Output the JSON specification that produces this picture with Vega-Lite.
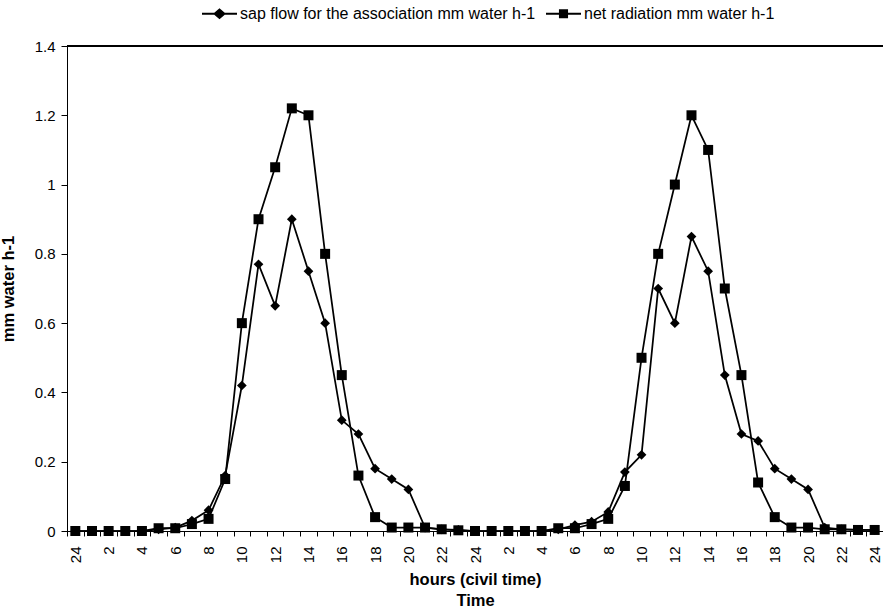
{
  "$schema": "https://vega.github.io/schema/vega-lite/v6.json",
  "width": 816,
  "height": 485,
  "autosize": {"type": "none"},
  "padding": {"left": 67, "top": 46, "right": 0, "bottom": 79},
  "background": "white",
  "config": {
    "view": {"stroke": "black", "strokeWidth": 1},
    "font": "Liberation Sans",
    "axis": {
      "domainColor": "black", "tickColor": "black", "labelColor": "black", "titleColor": "black",
      "grid": false, "labelFont": "Liberation Sans", "titleFont": "Liberation Sans",
      "labelFontSize": 15, "titleFontSize": 16.5, "titleFontWeight": "bold",
      "domainWidth": 1, "tickWidth": 1, "tickSize": 5
    },
    "legend": {
      "orient": "none", "legendX": 135, "legendY": -50, "direction": "horizontal",
      "labelFont": "Liberation Sans", "labelFontSize": 16, "labelColor": "black",
      "symbolSize": 1225, "symbolFillColor": "black", "symbolStrokeColor": "black",
      "symbolStrokeWidth": 0, "symbolOpacity": 1, "labelOffset": 3, "columnPadding": 10, "labelLimit": 0
    }
  },
  "datasets": {
    "d": [
      {"h": 0, "s": "sap flow for the association mm water h-1", "v": 0},
      {"h": 1, "s": "sap flow for the association mm water h-1", "v": 0},
      {"h": 2, "s": "sap flow for the association mm water h-1", "v": 0},
      {"h": 3, "s": "sap flow for the association mm water h-1", "v": 0},
      {"h": 4, "s": "sap flow for the association mm water h-1", "v": 0},
      {"h": 5, "s": "sap flow for the association mm water h-1", "v": 0.005},
      {"h": 6, "s": "sap flow for the association mm water h-1", "v": 0.01},
      {"h": 7, "s": "sap flow for the association mm water h-1", "v": 0.03},
      {"h": 8, "s": "sap flow for the association mm water h-1", "v": 0.06},
      {"h": 9, "s": "sap flow for the association mm water h-1", "v": 0.16},
      {"h": 10, "s": "sap flow for the association mm water h-1", "v": 0.42},
      {"h": 11, "s": "sap flow for the association mm water h-1", "v": 0.77},
      {"h": 12, "s": "sap flow for the association mm water h-1", "v": 0.65},
      {"h": 13, "s": "sap flow for the association mm water h-1", "v": 0.9},
      {"h": 14, "s": "sap flow for the association mm water h-1", "v": 0.75},
      {"h": 15, "s": "sap flow for the association mm water h-1", "v": 0.6},
      {"h": 16, "s": "sap flow for the association mm water h-1", "v": 0.32},
      {"h": 17, "s": "sap flow for the association mm water h-1", "v": 0.28},
      {"h": 18, "s": "sap flow for the association mm water h-1", "v": 0.18},
      {"h": 19, "s": "sap flow for the association mm water h-1", "v": 0.15},
      {"h": 20, "s": "sap flow for the association mm water h-1", "v": 0.12},
      {"h": 21, "s": "sap flow for the association mm water h-1", "v": 0.01},
      {"h": 22, "s": "sap flow for the association mm water h-1", "v": 0.005},
      {"h": 23, "s": "sap flow for the association mm water h-1", "v": 0.003},
      {"h": 24, "s": "sap flow for the association mm water h-1", "v": 0},
      {"h": 25, "s": "sap flow for the association mm water h-1", "v": 0},
      {"h": 26, "s": "sap flow for the association mm water h-1", "v": 0},
      {"h": 27, "s": "sap flow for the association mm water h-1", "v": 0},
      {"h": 28, "s": "sap flow for the association mm water h-1", "v": 0},
      {"h": 29, "s": "sap flow for the association mm water h-1", "v": 0.005},
      {"h": 30, "s": "sap flow for the association mm water h-1", "v": 0.017},
      {"h": 31, "s": "sap flow for the association mm water h-1", "v": 0.027},
      {"h": 32, "s": "sap flow for the association mm water h-1", "v": 0.055},
      {"h": 33, "s": "sap flow for the association mm water h-1", "v": 0.17},
      {"h": 34, "s": "sap flow for the association mm water h-1", "v": 0.22},
      {"h": 35, "s": "sap flow for the association mm water h-1", "v": 0.7},
      {"h": 36, "s": "sap flow for the association mm water h-1", "v": 0.6},
      {"h": 37, "s": "sap flow for the association mm water h-1", "v": 0.85},
      {"h": 38, "s": "sap flow for the association mm water h-1", "v": 0.75},
      {"h": 39, "s": "sap flow for the association mm water h-1", "v": 0.45},
      {"h": 40, "s": "sap flow for the association mm water h-1", "v": 0.28},
      {"h": 41, "s": "sap flow for the association mm water h-1", "v": 0.26},
      {"h": 42, "s": "sap flow for the association mm water h-1", "v": 0.18},
      {"h": 43, "s": "sap flow for the association mm water h-1", "v": 0.15},
      {"h": 44, "s": "sap flow for the association mm water h-1", "v": 0.12},
      {"h": 45, "s": "sap flow for the association mm water h-1", "v": 0.01},
      {"h": 46, "s": "sap flow for the association mm water h-1", "v": 0.005},
      {"h": 47, "s": "sap flow for the association mm water h-1", "v": 0.003},
      {"h": 48, "s": "sap flow for the association mm water h-1", "v": 0.003},
      {"h": 0, "s": "net radiation mm water h-1", "v": 0},
      {"h": 1, "s": "net radiation mm water h-1", "v": 0},
      {"h": 2, "s": "net radiation mm water h-1", "v": 0},
      {"h": 3, "s": "net radiation mm water h-1", "v": 0},
      {"h": 4, "s": "net radiation mm water h-1", "v": 0},
      {"h": 5, "s": "net radiation mm water h-1", "v": 0.008},
      {"h": 6, "s": "net radiation mm water h-1", "v": 0.008},
      {"h": 7, "s": "net radiation mm water h-1", "v": 0.02},
      {"h": 8, "s": "net radiation mm water h-1", "v": 0.035},
      {"h": 9, "s": "net radiation mm water h-1", "v": 0.15},
      {"h": 10, "s": "net radiation mm water h-1", "v": 0.6},
      {"h": 11, "s": "net radiation mm water h-1", "v": 0.9},
      {"h": 12, "s": "net radiation mm water h-1", "v": 1.05},
      {"h": 13, "s": "net radiation mm water h-1", "v": 1.22},
      {"h": 14, "s": "net radiation mm water h-1", "v": 1.2},
      {"h": 15, "s": "net radiation mm water h-1", "v": 0.8},
      {"h": 16, "s": "net radiation mm water h-1", "v": 0.45},
      {"h": 17, "s": "net radiation mm water h-1", "v": 0.16},
      {"h": 18, "s": "net radiation mm water h-1", "v": 0.04},
      {"h": 19, "s": "net radiation mm water h-1", "v": 0.01},
      {"h": 20, "s": "net radiation mm water h-1", "v": 0.01},
      {"h": 21, "s": "net radiation mm water h-1", "v": 0.01},
      {"h": 22, "s": "net radiation mm water h-1", "v": 0.005},
      {"h": 23, "s": "net radiation mm water h-1", "v": 0.002},
      {"h": 24, "s": "net radiation mm water h-1", "v": 0},
      {"h": 25, "s": "net radiation mm water h-1", "v": 0},
      {"h": 26, "s": "net radiation mm water h-1", "v": 0},
      {"h": 27, "s": "net radiation mm water h-1", "v": 0},
      {"h": 28, "s": "net radiation mm water h-1", "v": 0},
      {"h": 29, "s": "net radiation mm water h-1", "v": 0.008},
      {"h": 30, "s": "net radiation mm water h-1", "v": 0.008},
      {"h": 31, "s": "net radiation mm water h-1", "v": 0.02},
      {"h": 32, "s": "net radiation mm water h-1", "v": 0.035},
      {"h": 33, "s": "net radiation mm water h-1", "v": 0.13},
      {"h": 34, "s": "net radiation mm water h-1", "v": 0.5},
      {"h": 35, "s": "net radiation mm water h-1", "v": 0.8},
      {"h": 36, "s": "net radiation mm water h-1", "v": 1.0},
      {"h": 37, "s": "net radiation mm water h-1", "v": 1.2},
      {"h": 38, "s": "net radiation mm water h-1", "v": 1.1},
      {"h": 39, "s": "net radiation mm water h-1", "v": 0.7},
      {"h": 40, "s": "net radiation mm water h-1", "v": 0.45},
      {"h": 41, "s": "net radiation mm water h-1", "v": 0.14},
      {"h": 42, "s": "net radiation mm water h-1", "v": 0.04},
      {"h": 43, "s": "net radiation mm water h-1", "v": 0.01},
      {"h": 44, "s": "net radiation mm water h-1", "v": 0.01},
      {"h": 45, "s": "net radiation mm water h-1", "v": 0.005},
      {"h": 46, "s": "net radiation mm water h-1", "v": 0.005},
      {"h": 47, "s": "net radiation mm water h-1", "v": 0.003},
      {"h": 48, "s": "net radiation mm water h-1", "v": 0.003}
    ]
  },
  "data": {"name": "d"},
  "encoding": {
    "x": {
      "field": "h", "type": "ordinal",
      "scale": {"type": "band", "paddingInner": 0, "paddingOuter": 0},
      "axis": {
        "title": ["hours (civil time)", "Time"],
        "labelAngle": 270, "labelAlign": "right", "labelBaseline": "middle",
        "labelExpr": "datum.value % 2 == 0 ? (datum.value % 24 == 0 ? '24' : '' + (datum.value % 24)) : ''",
        "tickBand": "extent", "labelPadding": 10, "titlePadding": 9, "titleLineHeight": 21,
        "labelOverlap": false
      }
    },
    "y": {
      "field": "v", "type": "quantitative",
      "scale": {"domain": [0, 1.4]},
      "axis": {
        "title": "mm water h-1", "values": [0, 0.2, 0.4, 0.6, 0.8, 1, 1.2, 1.4],
        "format": "~g", "labelPadding": 6, "tickSize": 6, "titlePadding": 18
      }
    }
  },
  "layer": [
    {
      "mark": {"type": "rule", "color": "black", "strokeWidth": 1},
      "encoding": {"y": {"datum": 1.4}, "x": null, "x2": null}
    },
    {
      "mark": {"type": "line", "color": "black", "strokeWidth": 1.75},
      "encoding": {"detail": {"field": "s", "type": "nominal"}}
    },
    {
      "transform": [{"filter": "datum.s == 'sap flow for the association mm water h-1'"}],
      "mark": {"type": "point", "shape": "diamond", "filled": true, "size": 95, "color": "black", "opacity": 1}
    },
    {
      "transform": [{"filter": "datum.s == 'net radiation mm water h-1'"}],
      "mark": {"type": "point", "shape": "square", "filled": true, "size": 100, "color": "black", "opacity": 1}
    },
    {
      "mark": {"type": "point", "filled": true, "color": "black", "opacity": 0},
      "encoding": {
        "shape": {
          "field": "s", "type": "nominal",
          "scale": {
            "domain": ["sap flow for the association mm water h-1", "net radiation mm water h-1"],
            "range": [
              "M-1,-0.06L-0.3,-0.06L0,-0.32L0.3,-0.06L1,-0.06L1,0.06L0.3,0.06L0,0.32L-0.3,0.06L-1,0.06Z",
              "M-1,-0.06L-0.26,-0.06L-0.26,-0.26L0.26,-0.26L0.26,-0.06L1,-0.06L1,0.06L0.26,0.06L0.26,0.26L-0.26,0.26L-0.26,0.06L-1,0.06Z"
            ]
          },
          "legend": {
            "title": null, "symbolOpacity": 1,
            "encode": {"symbols": {"update": {"fill": {"value": "black"}, "opacity": {"value": 1}, "fillOpacity": {"value": 1}}}}
          }
        }
      }
    }
  ]
}
